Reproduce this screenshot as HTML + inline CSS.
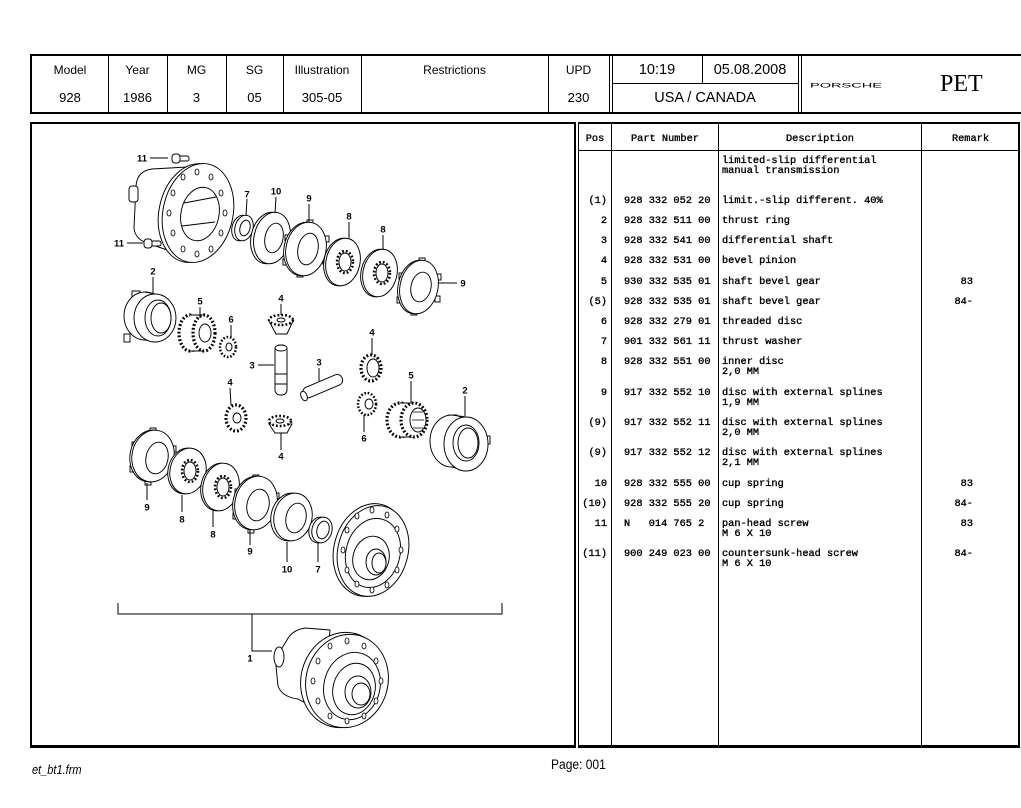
<!DOCTYPE html>
<html><head><meta charset="utf-8"><style>
html,body{margin:0;padding:0;background:#fff;}
body{width:1021px;height:808px;position:relative;overflow:hidden;font-family:"Liberation Sans",Arial,sans-serif;color:#000;}
.a{position:absolute;}
.hl{position:absolute;background:#000;}
.hc{position:absolute;text-align:center;font-size:12px;line-height:14px;white-space:nowrap;}
.hb{position:absolute;text-align:center;font-size:14.5px;line-height:16px;white-space:nowrap;}
.m{position:absolute;font-family:"Liberation Mono","Courier New",monospace;font-size:10.3px;line-height:10px;white-space:pre;-webkit-text-stroke:0.35px #000;}
.r{text-align:right;}
</style></head><body>

<!-- header frame -->
<div class="hl" style="left:30px;top:54px;width:991px;height:2px"></div>
<div class="hl" style="left:30px;top:112px;width:991px;height:2px"></div>
<div class="hl" style="left:30px;top:54px;width:2px;height:60px"></div>
<div class="hl" style="left:108px;top:56px;width:1px;height:56px"></div>
<div class="hl" style="left:167px;top:56px;width:1px;height:56px"></div>
<div class="hl" style="left:226px;top:56px;width:1px;height:56px"></div>
<div class="hl" style="left:283px;top:56px;width:1px;height:56px"></div>
<div class="hl" style="left:361px;top:56px;width:1px;height:56px"></div>
<div class="hl" style="left:548px;top:56px;width:1px;height:56px"></div>
<div class="hl" style="left:609px;top:56px;width:1px;height:56px"></div>
<div class="hl" style="left:612px;top:56px;width:1px;height:56px"></div>
<div class="hl" style="left:702px;top:56px;width:1px;height:27px"></div>
<div class="hl" style="left:612px;top:83px;width:186px;height:1px"></div>
<div class="hl" style="left:798px;top:56px;width:1px;height:56px"></div>
<div class="hl" style="left:801px;top:56px;width:1px;height:56px"></div>

<div class="hc" style="left:32px;width:76px;top:63px">Model</div>
<div class="hc" style="left:108px;width:59px;top:63px">Year</div>
<div class="hc" style="left:167px;width:59px;top:63px">MG</div>
<div class="hc" style="left:226px;width:57px;top:63px">SG</div>
<div class="hc" style="left:283px;width:78px;top:63px">Illustration</div>
<div class="hc" style="left:361px;width:187px;top:63px">Restrictions</div>
<div class="hc" style="left:548px;width:61px;top:63px">UPD</div>
<div class="hc" style="left:32px;width:76px;top:91px;font-size:13px">928</div>
<div class="hc" style="left:108px;width:59px;top:91px;font-size:13px">1986</div>
<div class="hc" style="left:167px;width:59px;top:91px;font-size:13px">3</div>
<div class="hc" style="left:226px;width:57px;top:91px;font-size:13px">05</div>
<div class="hc" style="left:283px;width:78px;top:91px;font-size:13px">305-05</div>
<div class="hc" style="left:548px;width:61px;top:91px;font-size:13px">230</div>
<div class="hb" style="left:612px;width:90px;top:62px">10:19</div>
<div class="hb" style="left:702px;width:96px;top:62px">05.08.2008</div>
<div class="hb" style="left:612px;width:186px;top:90px">USA / CANADA</div>
<svg class="a" style="left:805px;top:78px" width="90" height="14" viewBox="0 0 90 14">
<text x="5" y="9.3" font-family="Liberation Sans,sans-serif" font-size="6" textLength="72" lengthAdjust="spacingAndGlyphs" fill="#000">PORSCHE</text>
</svg>
<div class="a" style="left:940px;top:70px;font-family:'Liberation Serif',serif;font-size:24px;line-height:28px">PET</div>

<!-- left panel frame -->
<div class="a" style="left:30px;top:122px;width:546px;height:626px;box-sizing:border-box;border:2px solid #000;border-bottom-width:3px"></div>
<!-- table frame -->
<div class="a" style="left:578px;top:122px;width:442px;height:626px;box-sizing:border-box;border:2px solid #000;border-left-width:1px;border-bottom-width:3px"></div>
<div class="hl" style="left:611px;top:124px;width:1px;height:621px"></div>
<div class="hl" style="left:718px;top:124px;width:1px;height:621px"></div>
<div class="hl" style="left:921px;top:124px;width:1px;height:621px"></div>
<div class="hl" style="left:579px;top:150px;width:439px;height:1px"></div>

<div class="m" style="left:579px;width:32px;top:134px;text-align:center">Pos</div>
<div class="m" style="left:612px;width:106px;top:134px;text-align:center">Part Number</div>
<div class="m" style="left:719px;width:202px;top:134px;text-align:center">Description</div>
<div class="m" style="left:922px;width:97px;top:134px;text-align:center">Remark</div>

<!-- rows -->
<div class="m" style="left:722px;top:156px">limited-slip differential</div>
<div class="m" style="left:722px;top:166px">manual transmission</div>

<div class="m r" style="left:570px;width:37px;top:196px">(1)</div>
<div class="m" style="left:624px;top:196px">928 332 052 20</div>
<div class="m" style="left:722px;top:196px">limit.-slip different. 40%</div>

<div class="m r" style="left:570px;width:37px;top:216px">2</div>
<div class="m" style="left:624px;top:216px">928 332 511 00</div>
<div class="m" style="left:722px;top:216px">thrust ring</div>

<div class="m r" style="left:570px;width:37px;top:236px">3</div>
<div class="m" style="left:624px;top:236px">928 332 541 00</div>
<div class="m" style="left:722px;top:236px">differential shaft</div>

<div class="m r" style="left:570px;width:37px;top:256px">4</div>
<div class="m" style="left:624px;top:256px">928 332 531 00</div>
<div class="m" style="left:722px;top:256px">bevel pinion</div>

<div class="m r" style="left:570px;width:37px;top:277px">5</div>
<div class="m" style="left:624px;top:277px">930 332 535 01</div>
<div class="m" style="left:722px;top:277px">shaft bevel gear</div>
<div class="m r" style="left:930px;width:43px;top:277px">83</div>

<div class="m r" style="left:570px;width:37px;top:297px">(5)</div>
<div class="m" style="left:624px;top:297px">928 332 535 01</div>
<div class="m" style="left:722px;top:297px">shaft bevel gear</div>
<div class="m r" style="left:930px;width:43px;top:297px">84-</div>

<div class="m r" style="left:570px;width:37px;top:317px">6</div>
<div class="m" style="left:624px;top:317px">928 332 279 01</div>
<div class="m" style="left:722px;top:317px">threaded disc</div>

<div class="m r" style="left:570px;width:37px;top:337px">7</div>
<div class="m" style="left:624px;top:337px">901 332 561 11</div>
<div class="m" style="left:722px;top:337px">thrust washer</div>

<div class="m r" style="left:570px;width:37px;top:357px">8</div>
<div class="m" style="left:624px;top:357px">928 332 551 00</div>
<div class="m" style="left:722px;top:357px">inner disc</div>
<div class="m" style="left:722px;top:367px">2,0 MM</div>

<div class="m r" style="left:570px;width:37px;top:388px">9</div>
<div class="m" style="left:624px;top:388px">917 332 552 10</div>
<div class="m" style="left:722px;top:388px">disc with external splines</div>
<div class="m" style="left:722px;top:398px">1,9 MM</div>

<div class="m r" style="left:570px;width:37px;top:418px">(9)</div>
<div class="m" style="left:624px;top:418px">917 332 552 11</div>
<div class="m" style="left:722px;top:418px">disc with external splines</div>
<div class="m" style="left:722px;top:428px">2,0 MM</div>

<div class="m r" style="left:570px;width:37px;top:448px">(9)</div>
<div class="m" style="left:624px;top:448px">917 332 552 12</div>
<div class="m" style="left:722px;top:448px">disc with external splines</div>
<div class="m" style="left:722px;top:458px">2,1 MM</div>

<div class="m r" style="left:570px;width:37px;top:479px">10</div>
<div class="m" style="left:624px;top:479px">928 332 555 00</div>
<div class="m" style="left:722px;top:479px">cup spring</div>
<div class="m r" style="left:930px;width:43px;top:479px">83</div>

<div class="m r" style="left:570px;width:37px;top:499px">(10)</div>
<div class="m" style="left:624px;top:499px">928 332 555 20</div>
<div class="m" style="left:722px;top:499px">cup spring</div>
<div class="m r" style="left:930px;width:43px;top:499px">84-</div>

<div class="m r" style="left:570px;width:37px;top:519px">11</div>
<div class="m" style="left:624px;top:519px">N   014 765 2</div>
<div class="m" style="left:722px;top:519px">pan-head screw</div>
<div class="m" style="left:722px;top:529px">M 6 X 10</div>
<div class="m r" style="left:930px;width:43px;top:519px">83</div>

<div class="m r" style="left:570px;width:37px;top:549px">(11)</div>
<div class="m" style="left:624px;top:549px">900 249 023 00</div>
<div class="m" style="left:722px;top:549px">countersunk-head screw</div>
<div class="m" style="left:722px;top:559px">M 6 X 10</div>
<div class="m r" style="left:930px;width:43px;top:549px">84-</div>

<!-- footer -->
<div class="a" style="left:32px;top:763px;font-size:12.5px;line-height:15px;font-style:italic;transform:scaleX(0.88);transform-origin:0 0">et_bt1.frm</div>
<div class="a" style="left:551px;top:757px;font-size:13.5px;line-height:16px;transform:scaleX(0.89);transform-origin:0 0">Page: 001</div>

<!-- illustration -->
<svg class="a" style="left:0;top:0" width="1021" height="808" viewBox="0 0 1021 808">
<g fill="#fff" stroke="#000" stroke-width="0.95">
<!-- housing -->
<path d="M205,166 L152,169 Q137,171 136,186 L134,228 Q135,240 150,244 L190,258 Z"/>
<rect x="129" y="186" width="9" height="16" rx="3"/>
<ellipse cx="194" cy="213" rx="35" ry="50" transform="rotate(12 194 213)"/>
<ellipse cx="198" cy="213" rx="35" ry="50" transform="rotate(12 198 213)"/>
<ellipse cx="200" cy="214" rx="19" ry="27" transform="rotate(12 200 214)"/>
<path d="M184,203 L216,197 M182,226 L215,222" fill="none"/>
<g stroke-width="0.8">
<ellipse cx="225" cy="213" rx="2" ry="3"/><ellipse cx="221" cy="233" rx="2" ry="3"/><ellipse cx="211" cy="249" rx="2" ry="3"/>
<ellipse cx="197" cy="254" rx="2" ry="3"/><ellipse cx="183" cy="249" rx="2" ry="3"/><ellipse cx="173" cy="233" rx="2" ry="3"/>
<ellipse cx="169" cy="213" rx="2" ry="3"/><ellipse cx="173" cy="193" rx="2" ry="3"/><ellipse cx="183" cy="177" rx="2" ry="3"/>
<ellipse cx="197" cy="172" rx="2" ry="3"/><ellipse cx="211" cy="177" rx="2" ry="3"/><ellipse cx="221" cy="193" rx="2" ry="3"/>
</g>
<!-- screws -->
<rect x="179" y="156" width="10" height="5" rx="2"/><rect x="172" y="154" width="8" height="9" rx="3"/>
<rect x="151" y="241" width="10" height="5" rx="2"/><rect x="144" y="239" width="8" height="9" rx="3"/>

<!-- top row discs -->
<ellipse cx="241" cy="228" rx="9" ry="13" transform="rotate(15 241 228)"/>
<ellipse cx="244" cy="228" rx="9" ry="13" transform="rotate(15 244 228)"/>
<ellipse cx="245" cy="228" rx="5" ry="8" transform="rotate(15 245 228)"/>

<ellipse cx="269" cy="238" rx="18" ry="26" transform="rotate(12 269 238)"/>
<ellipse cx="272" cy="238" rx="18" ry="26" transform="rotate(12 272 238)"/>
<ellipse cx="274" cy="238" rx="9" ry="15" transform="rotate(12 274 238)"/>

<rect x="307" y="220" width="6" height="5"/><rect x="324" y="236" width="5" height="6"/><rect x="323" y="258" width="5" height="6"/>
<rect x="297" y="272" width="6" height="5"/><rect x="283" y="259" width="5" height="6"/><rect x="285" y="235" width="5" height="6"/>
<ellipse cx="304" cy="249" rx="20" ry="27" transform="rotate(12 304 249)"/>
<ellipse cx="306" cy="249" rx="20" ry="27" transform="rotate(12 306 249)"/>
<ellipse cx="308" cy="249" rx="10" ry="16" transform="rotate(12 308 249)"/>

<ellipse cx="341" cy="262" rx="17" ry="24" transform="rotate(12 341 262)"/>
<ellipse cx="343" cy="262" rx="17" ry="24" transform="rotate(12 343 262)"/>
<ellipse cx="345" cy="262" rx="8" ry="11" stroke-width="2.5" stroke-dasharray="1.8 2"/>
<ellipse cx="345" cy="262" rx="6" ry="9"/>

<ellipse cx="378" cy="273" rx="17" ry="24" transform="rotate(12 378 273)"/>
<ellipse cx="380" cy="273" rx="17" ry="24" transform="rotate(12 380 273)"/>
<ellipse cx="382" cy="273" rx="8" ry="11" stroke-width="2.5" stroke-dasharray="1.8 2"/>
<ellipse cx="382" cy="273" rx="6" ry="9"/>

<rect x="419" y="258" width="6" height="5"/><rect x="436" y="274" width="5" height="6"/><rect x="435" y="296" width="5" height="6"/>
<rect x="411" y="310" width="6" height="5"/><rect x="397" y="297" width="5" height="6"/><rect x="399" y="273" width="5" height="6"/>
<ellipse cx="417" cy="287" rx="19" ry="27" transform="rotate(12 417 287)"/>
<ellipse cx="419" cy="287" rx="19" ry="27" transform="rotate(12 419 287)"/>
<ellipse cx="421" cy="287" rx="10" ry="15" transform="rotate(12 421 287)"/>

<!-- thrust ring 2 left -->
<rect x="132" y="291" width="8" height="6"/><rect x="124" y="334" width="6" height="8"/>
<ellipse cx="145" cy="316" rx="21" ry="24"/>
<path d="M145,292 L155,294 M145,340 L155,342" fill="none"/>
<ellipse cx="155" cy="318" rx="21" ry="24"/>
<ellipse cx="158" cy="318" rx="13" ry="18"/>
<ellipse cx="161" cy="318" rx="10" ry="15"/>

<!-- gear 5 left -->
<ellipse cx="190" cy="333" rx="11" ry="18" stroke-width="3.2" stroke-dasharray="1.8 2"/>
<rect x="190" y="315" width="14" height="36" stroke="none"/>
<path d="M190,315 L204,315 M190,351 L204,351" fill="none"/>
<ellipse cx="204" cy="333" rx="11" ry="18" stroke-width="3.2" stroke-dasharray="1.8 2"/>
<ellipse cx="205" cy="333" rx="6" ry="9"/>
<!-- gear 6 left -->
<ellipse cx="228" cy="347" rx="8" ry="10" stroke-width="2.5" stroke-dasharray="1.6 1.8"/>
<ellipse cx="229" cy="347" rx="3" ry="4"/>

<!-- bevel pinion 4 top -->
<path d="M269,321 L276,334 L287,334 L293,321 Z"/>
<ellipse cx="281" cy="320" rx="12" ry="5" stroke-width="2.5" stroke-dasharray="1.8 2"/>
<ellipse cx="281" cy="320" rx="4" ry="2"/>

<!-- shafts 3 -->
<rect x="275" y="345" width="12" height="50" rx="5"/>
<ellipse cx="281" cy="348" rx="6" ry="3"/>
<path d="M275,374 L287,374 M275,384 L287,384" fill="none"/>
<rect x="302" y="381" width="42" height="11" rx="5" transform="rotate(-23 322 387)"/>
<ellipse cx="304" cy="396" rx="3" ry="5" transform="rotate(-23 304 396)"/>

<!-- gear 4 right upper -->
<ellipse cx="371" cy="368" rx="10" ry="13" stroke-width="3.2" stroke-dasharray="1.8 2"/>
<ellipse cx="373" cy="368" rx="6" ry="9"/>
<!-- gear 6 right -->
<ellipse cx="367" cy="404" rx="9" ry="11" stroke-width="2.5" stroke-dasharray="1.6 1.8"/>
<ellipse cx="369" cy="404" rx="4" ry="5"/>
<!-- gear 5 right -->
<ellipse cx="400" cy="420" rx="13" ry="17" stroke-width="3.2" stroke-dasharray="1.8 2"/>
<rect x="400" y="403" width="14" height="34" stroke="none"/>
<path d="M400,403 L414,403 M400,437 L414,437" fill="none"/>
<ellipse cx="414" cy="420" rx="13" ry="17" stroke-width="3.2" stroke-dasharray="1.8 2"/>
<ellipse cx="418" cy="420" rx="8" ry="12"/>
<path d="M413,412 L423,412 M412,420 L424,420 M413,428 L423,428" fill="none" stroke-width="0.8"/>
<!-- ring 2 right -->
<rect x="484" y="436" width="6" height="8"/><rect x="449" y="415" width="8" height="6"/>
<ellipse cx="452" cy="441" rx="22" ry="26"/>
<path d="M452,415 L466,417 M452,467 L466,471" fill="none"/>
<ellipse cx="466" cy="444" rx="22" ry="27"/>
<ellipse cx="466" cy="443" rx="13" ry="18"/>
<ellipse cx="468" cy="443" rx="10" ry="15"/>
<!-- gear 4 left lower -->
<ellipse cx="236" cy="418" rx="10" ry="13" stroke-width="3.2" stroke-dasharray="1.8 2"/>
<ellipse cx="237" cy="418" rx="4" ry="5"/>
<!-- bevel 4 lower -->
<path d="M269,424 L275,433 L287,433 L292,424 Z"/>
<ellipse cx="280" cy="421" rx="11" ry="5" stroke-width="2.5" stroke-dasharray="1.8 2"/>
<ellipse cx="280" cy="421" rx="4" ry="2"/>

<!-- bottom discs -->
<rect x="150" y="428" width="6" height="5"/><rect x="171" y="446" width="5" height="6"/><rect x="170" y="466" width="5" height="6"/>
<rect x="145" y="480" width="6" height="5"/><rect x="130" y="466" width="5" height="6"/><rect x="132" y="442" width="5" height="6"/>
<ellipse cx="151" cy="456" rx="21" ry="26" transform="rotate(12 151 456)"/>
<ellipse cx="153" cy="456" rx="21" ry="26" transform="rotate(12 153 456)"/>
<ellipse cx="157" cy="458" rx="11" ry="16" transform="rotate(12 157 458)"/>

<ellipse cx="186" cy="471" rx="18" ry="23" transform="rotate(12 186 471)"/>
<ellipse cx="188" cy="471" rx="18" ry="23" transform="rotate(12 188 471)"/>
<ellipse cx="190" cy="471" rx="8" ry="11" stroke-width="2.5" stroke-dasharray="1.8 2"/>
<ellipse cx="190" cy="471" rx="6" ry="9"/>

<ellipse cx="219" cy="487" rx="18" ry="24" transform="rotate(12 219 487)"/>
<ellipse cx="221" cy="487" rx="18" ry="24" transform="rotate(12 221 487)"/>
<ellipse cx="223" cy="487" rx="8" ry="11" stroke-width="2.5" stroke-dasharray="1.8 2"/>
<ellipse cx="223" cy="487" rx="6" ry="9"/>

<rect x="253" y="475" width="6" height="5"/><rect x="274" y="493" width="5" height="6"/><rect x="273" y="513" width="5" height="6"/>
<rect x="248" y="528" width="6" height="5"/><rect x="233" y="513" width="5" height="6"/><rect x="235" y="489" width="5" height="6"/>
<ellipse cx="254" cy="503" rx="21" ry="27" transform="rotate(12 254 503)"/>
<ellipse cx="256" cy="503" rx="21" ry="27" transform="rotate(12 256 503)"/>
<ellipse cx="258" cy="505" rx="11" ry="16" transform="rotate(12 258 505)"/>

<ellipse cx="290" cy="517" rx="19" ry="24" transform="rotate(12 290 517)"/>
<ellipse cx="293" cy="517" rx="19" ry="24" transform="rotate(12 293 517)"/>
<ellipse cx="296" cy="518" rx="10" ry="15" transform="rotate(12 296 518)"/>

<ellipse cx="319" cy="530" rx="10" ry="13" transform="rotate(15 319 530)"/>
<ellipse cx="322" cy="530" rx="10" ry="13" transform="rotate(15 322 530)"/>
<ellipse cx="323" cy="530" rx="6" ry="9" transform="rotate(15 323 530)"/>

<!-- big cover -->
<ellipse cx="370" cy="550" rx="36" ry="47" transform="rotate(15 370 550)"/>
<ellipse cx="373" cy="551" rx="35" ry="46" transform="rotate(15 373 551)"/>
<ellipse cx="373" cy="553" rx="27" ry="35" transform="rotate(15 373 553)"/>
<ellipse cx="371" cy="558" rx="18" ry="22" transform="rotate(15 371 558)"/>
<ellipse cx="376" cy="562" rx="10" ry="13"/>
<ellipse cx="379" cy="563" rx="7" ry="10"/>
<g stroke-width="0.8">
<ellipse cx="401" cy="550" rx="2" ry="3"/><ellipse cx="397" cy="570" rx="2" ry="3"/><ellipse cx="387" cy="585" rx="2" ry="3"/>
<ellipse cx="372" cy="590" rx="2" ry="3"/><ellipse cx="357" cy="584" rx="2" ry="3"/><ellipse cx="347" cy="570" rx="2" ry="3"/>
<ellipse cx="343" cy="550" rx="2" ry="3"/><ellipse cx="347" cy="530" rx="2" ry="3"/><ellipse cx="357" cy="516" rx="2" ry="3"/>
<ellipse cx="372" cy="510" rx="2" ry="3"/><ellipse cx="387" cy="515" rx="2" ry="3"/><ellipse cx="397" cy="529" rx="2" ry="3"/>
</g>

<!-- assembled unit 1 -->
<path d="M330,630 L305,628 Q292,630 287,640 L282,648 Q276,652 276,666 L278,686 Q282,697 298,699 L322,712 Z"/>
<ellipse cx="279" cy="657" rx="5" ry="10"/>
<ellipse cx="343" cy="680" rx="42" ry="48" transform="rotate(15 343 680)"/>
<ellipse cx="347" cy="681" rx="41" ry="47" transform="rotate(15 347 681)"/>
<ellipse cx="352" cy="686" rx="28" ry="34" transform="rotate(15 352 686)"/>
<ellipse cx="354" cy="689" rx="21" ry="26" transform="rotate(15 354 689)"/>
<ellipse cx="358" cy="692" rx="13" ry="16"/>
<ellipse cx="361" cy="694" rx="9" ry="11"/>
<g stroke-width="0.8">
<ellipse cx="381" cy="681" rx="2" ry="3"/><ellipse cx="376" cy="701" rx="2" ry="3"/><ellipse cx="364" cy="716" rx="2" ry="3"/>
<ellipse cx="347" cy="721" rx="2" ry="3"/><ellipse cx="330" cy="716" rx="2" ry="3"/><ellipse cx="318" cy="701" rx="2" ry="3"/>
<ellipse cx="313" cy="681" rx="2" ry="3"/><ellipse cx="318" cy="661" rx="2" ry="3"/><ellipse cx="330" cy="646" rx="2" ry="3"/>
<ellipse cx="347" cy="641" rx="2" ry="3"/><ellipse cx="364" cy="646" rx="2" ry="3"/><ellipse cx="376" cy="661" rx="2" ry="3"/>
</g>
</g>

<!-- leader lines -->
<g stroke="#000" stroke-width="1" fill="none">
<path d="M150,158 L168,158 M127,243 L143,243"/>
<path d="M247,199 L246,216 M276,197 L275,213 M309,204 L309,222 M349,222 L349,238 M383,235 L383,250 M439,283 L457,283"/>
<path d="M153,277 L153,294 M200,307 L200,318 M231,325 L231,338 M281,304 L281,315"/>
<path d="M258,365 L274,365 M319,368 L319,381 M372,338 L372,355 M411,381 L411,402 M465,396 L465,416"/>
<path d="M364,415 L364,432 M230,388 L231,405 M281,433 L281,450"/>
<path d="M147,483 L147,500 M182,495 L182,512 M213,510 L213,527 M250,530 L250,545 M287,542 L287,562 M318,543 L318,562"/>
<path d="M118,603 L118,614 L502,614 L502,603 M252,614 L252,651 L272,651"/>
</g>
<g font-family="Liberation Sans,Arial,sans-serif" font-size="9.5" font-weight="bold" text-anchor="middle" fill="#000">
<text x="142" y="161.5">11</text><text x="119" y="246.5">11</text>
<text x="247" y="197.5">7</text><text x="276" y="194.5">10</text><text x="309" y="201.5">9</text>
<text x="349" y="219.5">8</text><text x="383" y="232.5">8</text><text x="463" y="286.5">9</text>
<text x="153" y="274.5">2</text><text x="200" y="304.5">5</text><text x="231" y="322.5">6</text><text x="281" y="301.5">4</text>
<text x="252" y="368.5">3</text><text x="319" y="365.5">3</text><text x="372" y="335.5">4</text><text x="411" y="378.5">5</text>
<text x="465" y="393.5">2</text><text x="364" y="441.5">6</text><text x="230" y="385.5">4</text><text x="281" y="459.5">4</text>
<text x="147" y="510.5">9</text><text x="182" y="522.5">8</text><text x="213" y="537.5">8</text><text x="250" y="554.5">9</text>
<text x="287" y="572.5">10</text><text x="318" y="572.5">7</text><text x="250" y="661.5">1</text>
</g>
</svg>
</body></html>
